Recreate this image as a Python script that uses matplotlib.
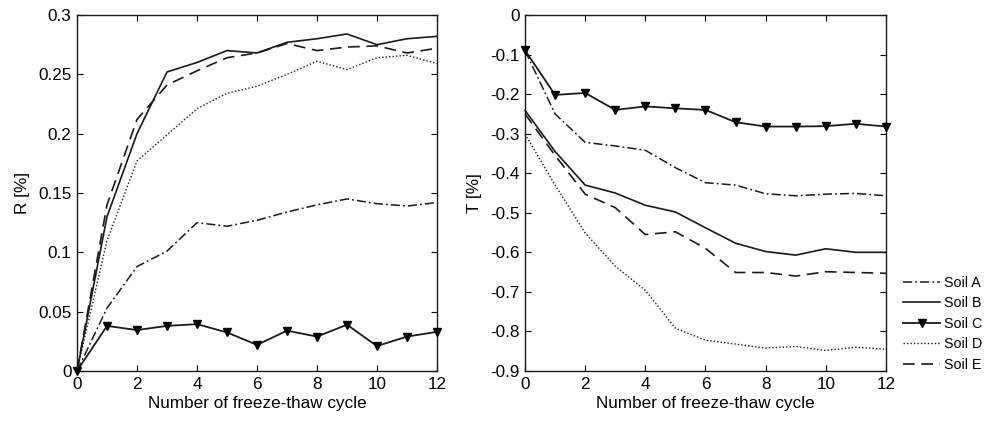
import matplotlib
matplotlib.use("Agg")
import matplotlib.pyplot as plt

plt.rcParams['font.family'] = ['Liberation Sans', 'DejaVu Sans']

cycles = list(range(13))
soil_names = ["Soil A", "Soil B", "Soil C", "Soil D", "Soil E"]

R_A = [0, 0.053, 0.088, 0.101, 0.125, 0.122, 0.127, 0.134, 0.140, 0.145, 0.141, 0.139, 0.142]
R_B = [0, 0.130, 0.200, 0.252, 0.260, 0.270, 0.268, 0.277, 0.280, 0.284, 0.275, 0.280, 0.282]
R_C = [0, 0.038, 0.0345, 0.038, 0.0395, 0.0325, 0.022, 0.034, 0.029, 0.039, 0.021, 0.029, 0.033]
R_D = [0, 0.110, 0.177, 0.199, 0.221, 0.234, 0.240, 0.250, 0.261, 0.254, 0.264, 0.266, 0.259]
R_E = [0, 0.140, 0.212, 0.241, 0.253, 0.264, 0.268, 0.276, 0.270, 0.273, 0.274, 0.268, 0.272]

T_A = [-0.09, -0.250, -0.322, -0.331, -0.342, -0.386, -0.424, -0.430, -0.452, -0.457, -0.453, -0.451, -0.457]
T_B = [-0.241, -0.345, -0.430, -0.450, -0.481, -0.498, -0.538, -0.577, -0.598, -0.607, -0.591, -0.600, -0.600]
T_C = [-0.089, -0.202, -0.197, -0.240, -0.231, -0.236, -0.240, -0.271, -0.282, -0.282, -0.281, -0.275, -0.282]
T_D = [-0.301, -0.430, -0.551, -0.635, -0.696, -0.792, -0.822, -0.832, -0.842, -0.838, -0.848, -0.840, -0.845]
T_E = [-0.250, -0.355, -0.453, -0.487, -0.555, -0.548, -0.590, -0.651, -0.651, -0.660, -0.649, -0.651, -0.653]

R_vals = [R_A, R_B, R_C, R_D, R_E]
T_vals = [T_A, T_B, T_C, T_D, T_E]

styles = [
    dict(linestyle=(0, (6, 2, 1.2, 2)), color='#1a1a1a', lw=1.1),
    dict(linestyle='-', color='#1a1a1a', lw=1.2),
    dict(linestyle='-', color='#1a1a1a', lw=1.3, marker='v', markersize=6,
         markerfacecolor='black', markeredgecolor='black'),
    dict(linestyle=(0, (1, 1.5)), color='#1a1a1a', lw=1.0),
    dict(linestyle=(0, (7, 4)), color='#1a1a1a', lw=1.2),
]

fig = plt.figure(figsize=(9.87, 4.25), dpi=100)
ax1 = fig.add_axes([77/987, 54/425, 360/987, 356/425])
ax2 = fig.add_axes([525/987, 54/425, 361/987, 356/425])

fs = 12.3
lines = []
for vals, st, name in zip(R_vals, styles, soil_names):
    ax1.plot(cycles, vals, label=name, clip_on=False, zorder=3, **st)
for vals, st, name in zip(T_vals, styles, soil_names):
    l, = ax2.plot(cycles, vals, label=name, clip_on=False, zorder=3, **st)
    lines.append(l)

ax1.set_xlim(0, 12)
ax1.set_ylim(0, 0.3)
ax1.set_xticks(range(0, 13, 2))
ax1.set_yticks([0, 0.05, 0.1, 0.15, 0.2, 0.25, 0.3])
ax1.set_yticklabels(['0', '0.05', '0.1', '0.15', '0.2', '0.25', '0.3'])
ax1.set_ylabel('R [%]', fontsize=fs, labelpad=6)

ax2.set_xlim(0, 12)
ax2.set_ylim(-0.9, 0)
ax2.set_xticks(range(0, 13, 2))
ax2.set_yticks([0, -0.1, -0.2, -0.3, -0.4, -0.5, -0.6, -0.7, -0.8, -0.9])
ax2.set_yticklabels(['0', '-0.1', '-0.2', '-0.3', '-0.4', '-0.5', '-0.6', '-0.7', '-0.8', '-0.9'])
ax2.set_ylabel('T [%]', fontsize=fs, labelpad=6)

for ax in (ax1, ax2):
    ax.set_xlabel('Number of freeze-thaw cycle', fontsize=fs, labelpad=3)
    ax.tick_params(direction='in', top=True, right=True, length=4, width=0.8,
                   labelsize=fs, pad=4)
    for s in ax.spines.values():
        s.set_linewidth(1.0)
        s.set_color('#1a1a1a')

fig.legend(handles=lines, labels=soil_names, loc='upper left',
           bbox_to_anchor=(893/987, 1 - 266/425), frameon=False,
           fontsize=10.3, handlelength=2.6, handletextpad=0.3,
           labelspacing=0.45, borderpad=0.2)

fig.savefig('out.png', dpi=100)
